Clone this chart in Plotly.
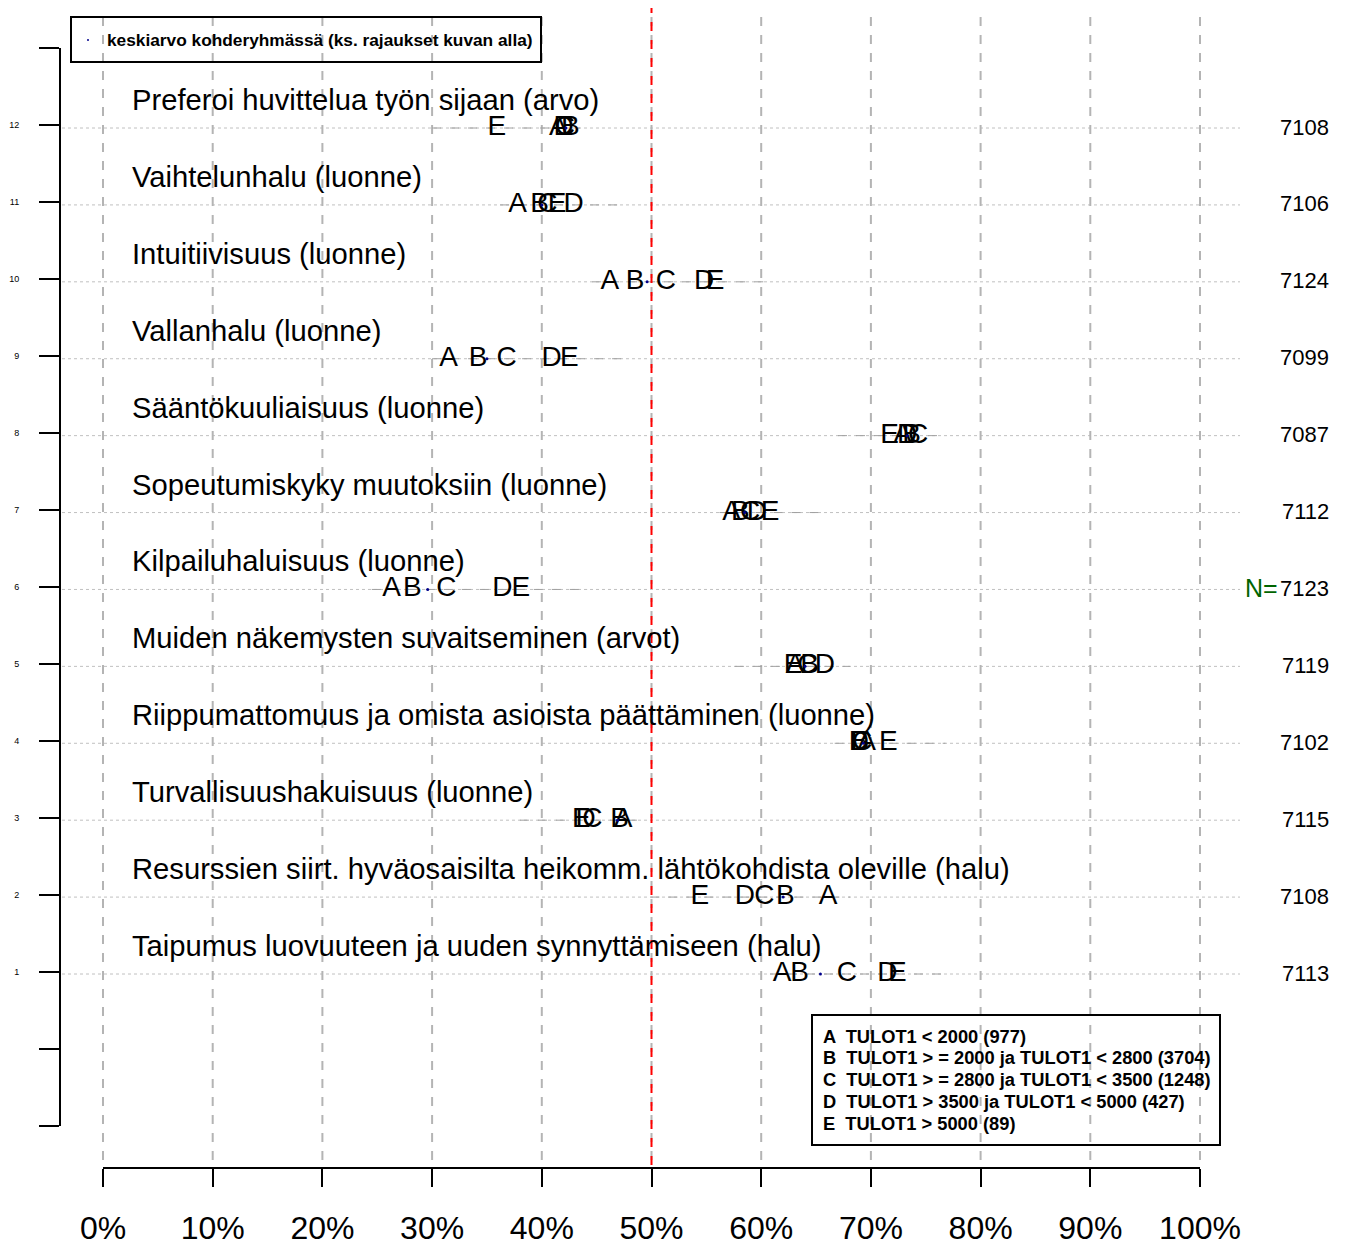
import plotly.graph_objects as go

# the page body adds an 8px margin; the figure is sized and placed to compensate
OFF = 8
WF, HF = 1348 - OFF, 1242 - OFF
FONT = "Liberation Sans, Arial, sans-serif"

rows = list(range(1, 13))
labels = [
    "Taipumus luovuuteen ja uuden synnyttämiseen (halu)",
    "Resurssien siirt. hyväosaisilta heikomm. lähtökohdista oleville (halu)",
    "Turvallisuushakuisuus (luonne)",
    "Riippumattomuus ja omista asioista päättäminen (luonne)",
    "Muiden näkemysten suvaitseminen (arvot)",
    "Kilpailuhaluisuus (luonne)",
    "Sopeutumiskyky muutoksiin (luonne)",
    "Sääntökuuliaisuus (luonne)",
    "Vallanhalu (luonne)",
    "Intuitiivisuus (luonne)",
    "Vaihtelunhalu (luonne)",
    "Preferoi huvittelua työn sijaan (arvo)",
]
n_values = [7113, 7108, 7115, 7102, 7119, 7123, 7112, 7087, 7099, 7124, 7106, 7108]

group_A = [61.9, 66.1, 47.4, 69.6, 63.1, 26.3, 57.3, 72.9, 31.5, 46.2, 37.8, 41.5]
group_B = [63.5, 62.2, 47.1, 69.0, 64.4, 28.2, 58.1, 73.7, 34.2, 48.5, 39.8, 42.6]
group_C = [67.8, 60.3, 44.6, 69.2, 64.2, 31.3, 59.0, 74.3, 36.8, 51.3, 40.5, 42.1]
group_D = [71.5, 58.5, 44.0, 68.9, 65.8, 36.4, 59.6, 73.3, 40.9, 54.8, 42.9, 42.0]
group_E = [72.4, 54.4, 43.6, 71.6, 62.9, 38.1, 60.8, 71.7, 42.5, 55.8, 41.4, 35.9]
groups = {"A": group_A, "B": group_B, "C": group_C, "D": group_D, "E": group_E}

mean_all = [65.4, 62.0, 46.9, 69.3, 64.0, 29.6, 58.5, 73.3, 35.0, 49.6, 40.0, 42.2]
range_low = [60.8, 49.9, 38.0, 66.7, 57.6, 24.5, 56.2, 67.0, 30.0, 44.6, 36.2, 30.0]
range_high = [76.8, 68.1, 49.0, 76.8, 68.1, 44.2, 65.2, 76.8, 47.9, 60.3, 46.9, 43.5]

x_ticks = list(range(0, 101, 10))
x_ticktext = [f"{v}%" for v in x_ticks]
y_ticks = list(range(-1, 14))
y_ticktext = [str(v) if 1 <= v <= 12 else "" for v in y_ticks]

legend_top = "keskiarvo kohderyhmässä (ks. rajaukset kuvan alla)"
group_desc = [
    "TULOT1 &lt; 2000 (977)",
    "TULOT1 &gt; = 2000 ja TULOT1 &lt; 2800 (3704)",
    "TULOT1 &gt; = 2800 ja TULOT1 &lt; 3500 (1248)",
    "TULOT1 &gt; 3500 ja TULOT1 &lt; 5000 (427)",
    "TULOT1 &gt; 5000 (89)",
]

# pixel geometry helpers (arguments are page pixels)
X0PX, X100PX = 103, 1200
PPU = (X100PX - X0PX) / 100.0
x_range = [-(X0PX - OFF) / PPU, (WF - (X0PX - OFF)) / PPU]
ROW12PX, ROW1PX = 128, 974
RSTEP = (ROW1PX - ROW12PX) / 11.0
y_range = [12 - (HF - (ROW12PX - OFF)) / RSTEP, 12 + (ROW12PX - OFF) / RSTEP]


def px_x(p):
    return (p - OFF) / WF


def px_y(p):
    return 1 - (p - OFF) / HF


fig = go.Figure()

# dashed range segments
sx, sy = [], []
for r, lo, hi in zip(rows, range_low, range_high):
    sx += [lo, hi, None]
    sy += [r, r, None]
fig.add_trace(go.Scatter(x=sx, y=sy, mode="lines",
                         line=dict(color="#a0a0a0", width=1, dash="dash"),
                         hoverinfo="skip", showlegend=False))

# group letters
for g, vals in groups.items():
    fig.add_trace(go.Scatter(x=vals, y=rows, mode="text", text=[g] * len(rows),
                             textposition="middle center",
                             textfont=dict(family=FONT, size=28, color="black"),
                             cliponaxis=False, hoverinfo="skip", showlegend=False))

# mean dots
fig.add_trace(go.Scatter(x=mean_all, y=rows, mode="markers",
                         marker=dict(size=3, color="#00008b"),
                         hoverinfo="skip", showlegend=False))

# invisible traces to carry the visible axes
fig.add_trace(go.Scatter(x=[0, 100], y=[0, 0], xaxis="x2", yaxis="y", mode="markers",
                         marker=dict(opacity=0), hoverinfo="skip", showlegend=False))
fig.add_trace(go.Scatter(x=[0, 0], y=[-1, 13], xaxis="x", yaxis="y2", mode="markers",
                         marker=dict(opacity=0), hoverinfo="skip", showlegend=False))

shapes = []
# dotted row lines
for r in rows:
    shapes.append(dict(type="line", xref="paper", yref="y", x0=px_x(62), x1=px_x(1240),
                       y0=r, y1=r, line=dict(color="#c0c0c0", width=1, dash="dot"), layer="below"))
# vertical dashed grid lines
for v in x_ticks:
    shapes.append(dict(type="line", xref="x", yref="paper", x0=v, x1=v,
                       y0=px_y(1160), y1=px_y(5),
                       line=dict(color="#b4b4b4", width=2, dash="dash"), layer="below"))
# red 50% line
shapes.append(dict(type="line", xref="x", yref="paper", x0=50, x1=50,
                   y0=px_y(1165), y1=px_y(5),
                   line=dict(color="red", width=2, dash="dash")))
# legend boxes
shapes.append(dict(type="rect", xref="paper", yref="paper",
                   x0=px_x(71), x1=px_x(541), y0=px_y(62), y1=px_y(17),
                   line=dict(color="black", width=2)))
shapes.append(dict(type="rect", xref="paper", yref="paper",
                   x0=px_x(812), x1=px_x(1220), y0=px_y(1145), y1=px_y(1015),
                   line=dict(color="black", width=2)))
shapes.append(dict(type="circle", xref="paper", yref="paper",
                   x0=px_x(87), x1=px_x(89), y0=px_y(41), y1=px_y(39),
                   fillcolor="#00008b", line=dict(width=0)))

annotations = []
for r, lab in zip(rows, labels):
    annotations.append(dict(x=(130 - X0PX) / PPU, y=r, xref="x", yref="y", text=lab,
                            showarrow=False, xanchor="left", yanchor="middle", yshift=28,
                            font=dict(family=FONT, size=29.2, color="black")))
for r, n in zip(rows, n_values):
    annotations.append(dict(x=px_x(1331), y=r, xref="paper", yref="y", text=str(n),
                            showarrow=False, xanchor="right", yanchor="middle", yshift=1,
                            font=dict(family=FONT, size=22, color="black")))
annotations.append(dict(x=px_x(1280), y=6, xref="paper", yref="y", text="N=",
                        showarrow=False, xanchor="right", yanchor="middle", yshift=1,
                        font=dict(family=FONT, size=25, color="#006400")))
annotations.append(dict(x=px_x(105), y=px_y(40), xref="paper", yref="paper",
                        text=f"<b>{legend_top}</b>", showarrow=False,
                        xanchor="left", yanchor="middle",
                        font=dict(family=FONT, size=17.3, color="black")))
for i, (g, d) in enumerate(zip(groups.keys(), group_desc)):
    annotations.append(dict(x=px_x(821), y=px_y(1036 + i * 21.8), xref="paper", yref="paper",
                            text=f"<b>{g}  {d}</b>", showarrow=False,
                            xanchor="left", yanchor="middle",
                            font=dict(family=FONT, size=18.3, color="black")))

fig.update_layout(
    width=WF, height=HF,
    margin=dict(l=0, r=0, t=0, b=0, pad=0, autoexpand=False),
    paper_bgcolor="white", plot_bgcolor="rgba(0,0,0,0)",
    showlegend=False,
    shapes=shapes, annotations=annotations,
    xaxis=dict(domain=[0, 1], range=x_range, visible=False, automargin=False),
    yaxis=dict(domain=[0, 1], range=y_range, visible=False, automargin=False),
    xaxis2=dict(domain=[px_x(X0PX), px_x(X100PX)], range=[0, 100],
                anchor="free", position=px_y(1168), automargin=False,
                tickvals=x_ticks, ticktext=x_ticktext,
                showline=True, linecolor="black", linewidth=2,
                ticks="outside", ticklen=18, tickwidth=2, tickcolor="black",
                ticklabelstandoff=14,
                tickfont=dict(family=FONT, size=32, color="black"),
                showgrid=False, zeroline=False),
    yaxis2=dict(domain=[px_y(1126), px_y(48)], range=[-1, 13],
                anchor="free", position=px_x(60), automargin=False,
                tickvals=y_ticks, ticktext=y_ticktext,
                showline=True, linecolor="black", linewidth=2,
                ticks="outside", ticklen=20, tickwidth=2, tickcolor="black",
                ticklabelstandoff=18,
                tickfont=dict(family=FONT, size=9, color="black"),
                showgrid=False, zeroline=False),
)

fig.write_html("out.html")
